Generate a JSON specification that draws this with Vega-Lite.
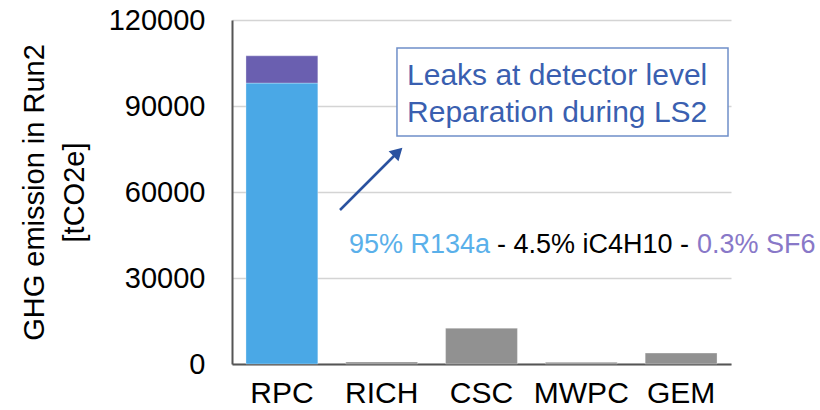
{
  "$schema": "https://vega.github.io/schema/vega-lite/v6.json",
  "width": 499,
  "height": 344,
  "autosize": {"type": "none"},
  "padding": {"left": 232, "top": 20, "right": 89, "bottom": 46},
  "background": "white",
  "config": {
    "font": "Liberation Sans",
    "view": {"stroke": null}
  },
  "datasets": {
    "bars": [
      {"detector": "RPC", "gas": "R134a", "value": 98000},
      {"detector": "RPC", "gas": "SF6", "value": 9500},
      {"detector": "RICH", "gas": "other", "value": 700},
      {"detector": "CSC", "gas": "other", "value": 12500},
      {"detector": "MWPC", "gas": "other", "value": 600},
      {"detector": "GEM", "gas": "other", "value": 3800}
    ],
    "box": [{"x1": 1.653, "x2": 4.97, "y1": 110233, "y2": 79535}],
    "boxText": [
      {"x": 1.754, "y": 97326, "label": "Leaks at detector level"},
      {"x": 1.754, "y": 84419, "label": "Reparation during LS2"}
    ],
    "arrow": [{"x1": 1.082, "y1": 53721, "x2": 1.653, "y2": 73605}],
    "arrowHead": [{"x": 1.663, "y": 73953}],
    "mix": [
      {"x": 1.172, "y": 38721, "part": "R134a", "label": "95% R134a"},
      {"x": 2.655, "y": 38721, "part": "iC4H10", "label": "- 4.5% iC4H10 -"},
      {"x": 4.659, "y": 38721, "part": "SF6", "label": "0.3% SF6"}
    ]
  },
  "layer": [
    {
      "data": {"name": "bars"},
      "mark": {"type": "bar", "stroke": "#ffffff", "strokeWidth": 0.6, "strokeOpacity": 0.5},
      "encoding": {
        "x": {
          "field": "detector", "type": "nominal",
          "sort": ["RPC", "RICH", "CSC", "MWPC", "GEM"],
          "scale": {"paddingInner": 0.28, "paddingOuter": 0.14},
          "axis": {
            "title": null, "labelAngle": 0, "labelFontSize": 30, "labelColor": "#000000",
            "ticks": false, "labelPadding": 14, "domainColor": "#555555", "domainWidth": 2, "grid": false
          }
        },
        "y": {
          "field": "value", "type": "quantitative", "stack": "zero",
          "scale": {"domain": [0, 120000], "nice": false},
          "axis": {
            "values": [0, 30000, 60000, 90000, 120000], "format": "d",
            "title": ["GHG emission in Run2", "[tCO2e]"],
            "titleFontSize": 29, "titleFontWeight": "normal", "titleColor": "#000000",
            "titleLineHeight": 40, "titleBaseline": "middle", "titleAlign": "center",
            "titleX": -198, "titleY": 172, "titleAngle": 270,
            "labelFontSize": 29, "labelColor": "#000000", "ticks": false, "labelPadding": 27,
            "grid": true, "gridColor": "#d4d4d4", "gridWidth": 1.5,
            "domainColor": "#555555", "domainWidth": 2
          }
        },
        "color": {
          "field": "gas", "type": "nominal",
          "scale": {"domain": ["R134a", "SF6", "other"], "range": ["#4aa8e6", "#6a5fb0", "#919191"]},
          "legend": null
        },
        "order": {"field": "gas", "sort": "ascending"}
      }
    },
    {
      "data": {"name": "box"},
      "mark": {"type": "rect", "fill": "#ffffff", "stroke": "#6f8fc9", "strokeWidth": 1.5},
      "encoding": {
        "x": {"field": "x1", "type": "quantitative", "scale": {"domain": [0, 5], "nice": false, "zero": false}, "axis": null},
        "x2": {"field": "x2"},
        "y": {"field": "y1", "type": "quantitative"},
        "y2": {"field": "y2"}
      }
    },
    {
      "data": {"name": "boxText"},
      "mark": {"type": "text", "align": "left", "baseline": "alphabetic", "fontSize": 30, "color": "#3a5fb0"},
      "encoding": {
        "x": {"field": "x", "type": "quantitative", "scale": {"domain": [0, 5], "nice": false, "zero": false}, "axis": null},
        "y": {"field": "y", "type": "quantitative"},
        "text": {"field": "label"}
      }
    },
    {
      "data": {"name": "arrow"},
      "mark": {"type": "rule", "color": "#2a52a0", "strokeWidth": 2.5},
      "encoding": {
        "x": {"field": "x1", "type": "quantitative", "scale": {"domain": [0, 5], "nice": false, "zero": false}, "axis": null},
        "x2": {"field": "x2"},
        "y": {"field": "y1", "type": "quantitative"},
        "y2": {"field": "y2"}
      }
    },
    {
      "data": {"name": "arrowHead"},
      "mark": {"type": "point", "shape": "triangle-up", "filled": true, "size": 200, "angle": 46, "color": "#2a52a0", "opacity": 1},
      "encoding": {
        "x": {"field": "x", "type": "quantitative", "scale": {"domain": [0, 5], "nice": false, "zero": false}, "axis": null},
        "y": {"field": "y", "type": "quantitative"}
      }
    },
    {
      "data": {"name": "mix"},
      "mark": {"type": "text", "align": "left", "baseline": "alphabetic", "fontSize": 27},
      "encoding": {
        "x": {"field": "x", "type": "quantitative", "scale": {"domain": [0, 5], "nice": false, "zero": false}, "axis": null},
        "y": {"field": "y", "type": "quantitative"},
        "text": {"field": "label"},
        "color": {
          "field": "part", "type": "nominal",
          "scale": {"domain": ["R134a", "iC4H10", "SF6"], "range": ["#5ab0ea", "#000000", "#8878c8"]},
          "legend": null
        }
      }
    }
  ],
  "resolve": {"scale": {"x": "independent", "color": "independent"}}
}
